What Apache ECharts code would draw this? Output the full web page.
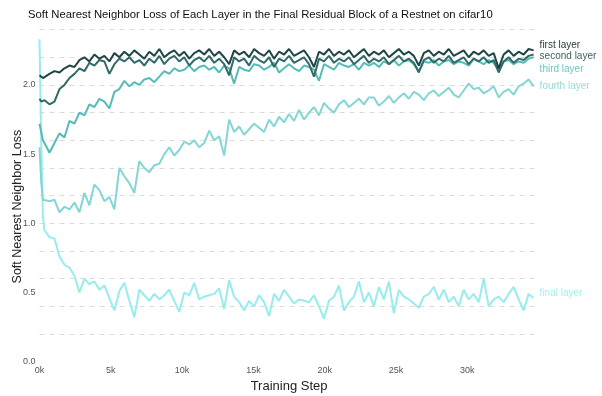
<!DOCTYPE html>
<html>
<head>
<meta charset="utf-8">
<script src="https://cdn.jsdelivr.net/npm/echarts@6/dist/echarts.min.js"></script>
<style>
html,body{margin:0;padding:0;background:#fff;}
#chart{width:602px;height:396px;}
</style>
</head>
<body>
<div id="chart"></div>
<script>
// Training steps (sampled)
const steps = [0, 120, 240].concat(Array.from({length: 99}, (_, i) => (i + 1) * 350));
const xTicks = [0, 5000, 10000, 15000, 20000, 25000, 30000];
const seriesNames = ['first layer', 'second layer', 'third layer', 'fourth layer', 'final layer'];

const firstLayer = [2.07, 2.06, 2.05,
  2.05, 2.08, 2.10, 2.09, 2.12, 2.14, 2.13, 2.18, 2.20, 2.17,
  2.22, 2.19, 2.21, 2.17, 2.23, 2.20, 2.24, 2.21, 2.25, 2.22,
  2.19, 2.24, 2.21, 2.26, 2.20, 2.23, 2.25, 2.21, 2.24, 2.19,
  2.23, 2.25, 2.22, 2.26, 2.21, 2.24, 2.20, 2.15, 2.25, 2.22,
  2.24, 2.20, 2.26, 2.23, 2.21, 2.25, 2.19, 2.24, 2.22, 2.26,
  2.21, 2.23, 2.25, 2.20, 2.13, 2.24, 2.22, 2.26, 2.21, 2.24,
  2.22, 2.25, 2.20, 2.23, 2.26, 2.21, 2.24, 2.22, 2.25, 2.20,
  2.23, 2.26, 2.22, 2.24, 2.21, 2.14, 2.23, 2.25, 2.21, 2.24,
  2.22, 2.26, 2.21, 2.23, 2.25, 2.20, 2.24, 2.22, 2.25, 2.21,
  2.23, 2.12, 2.22, 2.25, 2.21, 2.24, 2.22, 2.26, 2.25];

const secondLayer = [1.90, 1.88, 1.87,
  1.89, 1.86, 1.88, 1.97, 2.00, 2.05, 2.08, 2.12, 2.10, 2.16,
  2.14, 2.18, 2.17, 2.08, 2.15, 2.19, 2.17, 2.20, 2.16, 2.18,
  2.14, 2.19, 2.16, 2.21, 2.15, 2.19, 2.21, 2.17, 2.20, 2.14,
  2.18, 2.20, 2.17, 2.21, 2.16, 2.19, 2.15, 2.07, 2.20, 2.17,
  2.19, 2.14, 2.21, 2.18, 2.16, 2.20, 2.13, 2.19, 2.17, 2.21,
  2.16, 2.18, 2.20, 2.15, 2.06, 2.19, 2.17, 2.21, 2.16, 2.19,
  2.17, 2.20, 2.15, 2.18, 2.21, 2.16, 2.19, 2.17, 2.20, 2.15,
  2.18, 2.21, 2.17, 2.19, 2.16, 2.09, 2.18, 2.20, 2.16, 2.19,
  2.17, 2.21, 2.16, 2.18, 2.20, 2.15, 2.19, 2.17, 2.20, 2.16,
  2.18, 2.09, 2.17, 2.20, 2.16, 2.19, 2.18, 2.21, 2.22];

const thirdLayer = [1.72, 1.66, 1.60,
  1.58, 1.51, 1.58, 1.65, 1.62, 1.74, 1.72, 1.80, 1.78, 1.86,
  1.84, 1.90, 1.88, 1.83, 1.95, 1.97, 2.03, 1.99, 2.02, 2.00,
  2.04, 2.05, 2.02, 2.06, 2.10, 2.08, 2.12, 2.10, 2.11, 2.14,
  2.10, 2.13, 2.14, 2.11, 2.13, 2.09, 2.14, 2.12, 2.01, 2.13,
  2.11, 2.10, 2.15, 2.14, 2.11, 2.13, 2.16, 2.09, 2.12, 2.15,
  2.12, 2.10, 2.14, 2.13, 2.11, 2.03, 2.15, 2.13, 2.11, 2.16,
  2.14, 2.13, 2.15, 2.11, 2.16, 2.14, 2.16, 2.13, 2.17, 2.15,
  2.18, 2.14, 2.17, 2.18, 2.15, 2.10, 2.17, 2.16, 2.18, 2.14,
  2.17, 2.18, 2.15, 2.17, 2.16, 2.14, 2.19, 2.17, 2.15, 2.18,
  2.16, 2.11, 2.17, 2.18, 2.15, 2.17, 2.16, 2.19, 2.20];

const fourthLayer = [1.55, 1.30, 1.17,
  1.16, 1.16, 1.17, 1.08, 1.12, 1.10, 1.15, 1.08, 1.22, 1.13,
  1.28, 1.24, 1.16, 1.19, 1.10, 1.40, 1.34, 1.29, 1.22, 1.45,
  1.40, 1.37, 1.42, 1.43, 1.50, 1.55, 1.49, 1.53, 1.59, 1.57,
  1.60, 1.55, 1.58, 1.67, 1.60, 1.63, 1.49, 1.75, 1.66, 1.70,
  1.64, 1.68, 1.72, 1.69, 1.66, 1.75, 1.70, 1.77, 1.73, 1.79,
  1.74, 1.82, 1.75, 1.80, 1.84, 1.78, 1.87, 1.83, 1.80, 1.86,
  1.89, 1.84, 1.87, 1.90, 1.86, 1.91, 1.91, 1.85, 1.88, 1.92,
  1.87, 1.91, 1.94, 1.90, 1.95, 1.93, 1.89, 1.94, 1.96, 1.92,
  1.95, 1.98, 1.93, 1.91, 1.96, 2.01, 1.97, 1.98, 1.94, 1.96,
  1.99, 1.91, 1.95, 1.97, 1.93, 1.99, 2.01, 2.04, 1.99];

const finalLayer = [2.33, 1.60, 1.05,
  0.95, 0.90, 0.89, 0.76, 0.70, 0.68, 0.62, 0.50, 0.60, 0.56,
  0.58, 0.52, 0.55, 0.46, 0.37, 0.51, 0.57, 0.44, 0.32, 0.52,
  0.48, 0.44, 0.49, 0.45, 0.48, 0.52, 0.44, 0.36, 0.50, 0.48,
  0.57, 0.45, 0.47, 0.48, 0.49, 0.53, 0.38, 0.59, 0.47, 0.43,
  0.37, 0.44, 0.40, 0.48, 0.43, 0.33, 0.49, 0.44, 0.52, 0.47,
  0.42, 0.45, 0.44, 0.43, 0.48, 0.40, 0.31, 0.44, 0.47, 0.55,
  0.37, 0.43, 0.47, 0.58, 0.43, 0.50, 0.40, 0.54, 0.45, 0.58,
  0.35, 0.52, 0.47, 0.45, 0.42, 0.39, 0.47, 0.49, 0.54, 0.45,
  0.52, 0.43, 0.47, 0.40, 0.52, 0.45, 0.49, 0.43, 0.60, 0.40,
  0.45, 0.47, 0.43, 0.49, 0.54, 0.45, 0.37, 0.49, 0.46];

const layerValues = [firstLayer, secondLayer, thirdLayer, fourthLayer, finalLayer];
const lineColors = ['#1f4545', '#2f6a67', '#56bbb8', '#84d6d4', '#97ecec'];
const labelColors = ['#2b3d3d', '#426363', '#6cc7c4', '#93dddb', '#a6efef'];
const labelOffsets = [[0, -5], [0, 2], [0, 12], [0, 0], [0, -5]];

const FONT = 'Arial, "Liberation Sans", Helvetica, sans-serif';
const chart = echarts.init(document.getElementById('chart'), null, {renderer: 'canvas'});

const series = [];
for (let i = layerValues.length - 1; i >= 0; i--) {
  series.push({
    name: seriesNames[i],
    type: 'line',
    yAxisIndex: 0,
    data: steps.map((s, j) => [s, layerValues[i][j]]),
    showSymbol: false,
    symbol: 'none',
    lineStyle: {color: lineColors[i], width: 2},
    itemStyle: {color: lineColors[i]},
    z: 10 - i,
    animation: false,
    endLabel: {
      show: true,
      formatter: seriesNames[i],
      color: labelColors[i],
      fontFamily: FONT,
      fontSize: 10,
      distance: 6,
      offset: labelOffsets[i]
    }
  });
}

chart.setOption({
  animation: false,
  backgroundColor: '#fff',
  title: {
    text: 'Soft Nearest Neighbor Loss of Each Layer in the Final Residual Block of a Restnet on cifar10',
    left: 23,
    top: 4,
    textStyle: {fontFamily: FONT, fontSize: 11.3, fontWeight: 'normal', color: '#111'}
  },
  grid: {left: 39.5, right: 63.4, top: 29.6, bottom: 34.3, containLabel: false, outerBoundsMode: 'none'},
  xAxis: {
    type: 'value',
    min: 0,
    max: 35000,
    interval: 5000,
    name: 'Training Step',
    nameLocation: 'middle',
    nameGap: 18,
    nameMoveOverlap: false,
    nameTextStyle: {fontFamily: FONT, fontSize: 13, color: '#222'},
    axisLine: {show: false},
    axisTick: {show: false},
    splitLine: {show: false},
    axisLabel: {
      margin: 4,
      fontFamily: FONT,
      fontSize: 9,
      color: '#555',
      showMaxLabel: false,
      formatter: v => (v / 1000) + 'k'
    }
  },
  yAxis: [{
    type: 'value',
    min: 0,
    max: 2.4,
    interval: 0.5,
    name: 'Soft Nearest Neighbor Loss',
    nameLocation: 'middle',
    nameGap: 15,
    nameMoveOverlap: false,
    nameTextStyle: {fontFamily: FONT, fontSize: 12.5, color: '#222', padding: [0, 22, 0, 0]},
    axisLine: {show: false},
    axisTick: {show: false},
    splitLine: {show: false},
    axisLabel: {
      margin: 4,
      fontFamily: FONT,
      fontSize: 9,
      color: '#555',
      showMaxLabel: false,
      formatter: v => v.toFixed(1)
    }
  }, {
    type: 'value',
    min: 0,
    max: 2.4,
    interval: 0.2,
    position: 'left',
    axisLine: {show: false},
    axisTick: {show: false},
    axisLabel: {show: false},
    splitLine: {
      show: true,
      showMinLine: false,
      lineStyle: {color: '#dcdcdc', width: 1, type: [5, 5]}
    }
  }],
  series: series
});
</script>
</body>
</html>
